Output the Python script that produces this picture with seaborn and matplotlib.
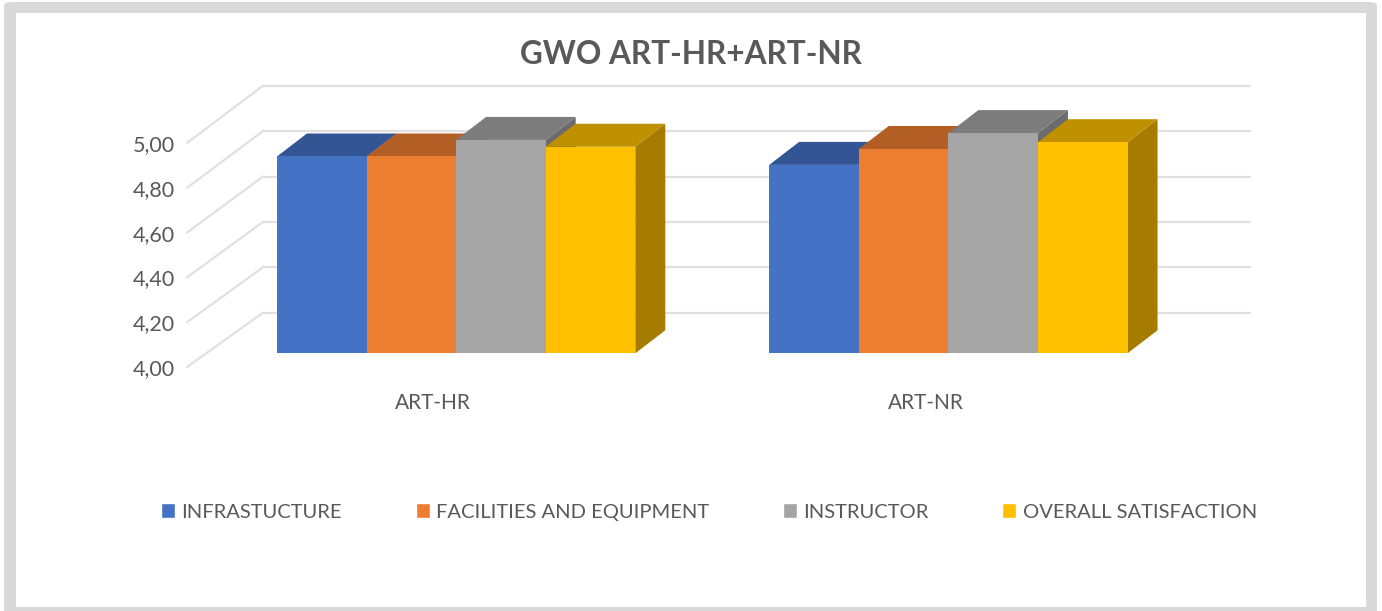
import matplotlib
matplotlib.use("Agg")
import matplotlib.pyplot as plt
from matplotlib.patches import FancyBboxPatch, Rectangle, Polygon, ConnectionPatch
import pandas as pd
import seaborn as sns

# values
groups = ["ART-HR", "ART-NR"]
series = ["INFRASTUCTURE", "FACILITIES AND EQUIPMENT", "INSTRUCTOR", "OVERALL SATISFACTION"]
infrastucture = [4.867, 4.83]
facilities = [4.867, 4.90]
instructor = [4.94, 4.97]
overall = [4.91, 4.93]
y_ticks = [4.0, 4.2, 4.4, 4.6, 4.8, 5.0]

front_colors = ["#4472C4", "#ED7D31", "#A5A5A5", "#FFC000"]
top_colors = ["#335593", "#B25E25", "#7C7C7C", "#BF9000"]
side_colors = ["#2C4A80", "#9A5120", "#6B6B6B", "#A67C00"]
text_color = "#595959"
grid_color = "#E0E0E0"

W, H = 1382, 611
sns.set_theme(style="white")
plt.rcParams["font.family"] = ["Lato", "DejaVu Sans"]


def px_axes(left, right, top, bottom):
    return fig.add_axes([left / W, 1 - bottom / H, (right - left) / W, (bottom - top) / H])


rows = []
for name, vals in zip(series, [infrastucture, facilities, instructor, overall]):
    for g, v in zip(groups, vals):
        rows.append({"group": g, "series": name, "value": v})
df = pd.DataFrame(rows)

fig = plt.figure(figsize=(W / 100, H / 100), dpi=100, facecolor="white")

# grey rounded frame of the screenshot
fig.add_artist(FancyBboxPatch((4 / W, 1 - 640 / H), 1373 / W, 638 / H, boxstyle="round,pad=0,rounding_size=0.006",
                              transform=fig.transFigure, fc="#D9D9D9", ec="none", zorder=-3))
fig.add_artist(Rectangle((15.5 / W, 1 - 607 / H), 1350 / W, 594 / H, transform=fig.transFigure,
                         fc="white", ec="none", zorder=-2))

# back wall carries the gridlines
ax_wall = px_axes(263, 1250, 85.7, 312.7)
ax_wall.set_ylim(4, 5)
ax_wall.set_xlim(0, 1)
ax_wall.set_yticks(y_ticks)
ax_wall.set_xticks([])
ax_wall.tick_params(left=False, labelleft=False)
ax_wall.grid(axis="y", color=grid_color, lw=1.6, clip_on=False)
ax_wall.patch.set_visible(False)
sns.despine(ax=ax_wall, left=True, bottom=True)
for gl in ax_wall.get_ygridlines():
    gl.set_clip_on(False)

# front plane carries the tick labels
ax_front = px_axes(187, 1171.5, 143, 367)
ax_front.set_xlim(-0.5, 1.5)
ax_front.set_ylim(4, 5)
ax_front.set_yticks(y_ticks)
ax_front.set_yticklabels([f"{v:.2f}".replace(".", ",") for v in y_ticks], fontsize=15.5, color=text_color)
ax_front.set_xticks(range(len(groups)))
ax_front.set_xticklabels(groups, fontsize=15, color=text_color)
ax_front.tick_params(axis="y", length=0, pad=9)
ax_front.tick_params(axis="x", length=0, pad=18.5)
ax_front.patch.set_visible(False)
sns.despine(ax=ax_front, left=True, bottom=True)

# floor lines from the front plane to the back wall
for v in y_ticks:
    fig.add_artist(ConnectionPatch((-0.5, v), (0, v), coordsA=ax_front.transData, coordsB=ax_wall.transData,
                                   color=grid_color, lw=1.6, zorder=0.5))

# bars stand between front plane and wall
ax = px_axes(210, 1194.5, 126.3, 353.3)
ax.set_zorder(2)
sns.barplot(data=df, x="group", y="value", hue="series", hue_order=series, order=groups,
            palette=front_colors, saturation=1, width=0.728, gap=0, ax=ax)
ax.set_xlim(-0.5, 1.5)
ax.set_ylim(4, 5)
ax.set_xlabel("")
ax.set_ylabel("")
ax.set_xticks([])
ax.set_yticks([])
ax.patch.set_visible(False)
sns.despine(ax=ax, left=True, bottom=True)

depth_x = 30 / 492.5
depth_y = 23 / 227
y_floor = ax.get_ylim()[0]
for i, cont in enumerate(ax.containers):
    for bar in cont:
        x0 = bar.get_x()
        x1 = x0 + bar.get_width()
        y1 = bar.get_y() + bar.get_height()
        bar.set_zorder(10)
        bar.set_edgecolor("none")
        ax.add_patch(Polygon([(x1, y_floor), (x1 + depth_x, y_floor + depth_y), (x1 + depth_x, y1 + depth_y), (x1, y1)],
                             fc=side_colors[i], ec="none", zorder=2 + i, clip_on=False))
        ax.add_patch(Polygon([(x0, y1), (x0 + depth_x, y1 + depth_y), (x1 + depth_x, y1 + depth_y), (x1, y1)],
                             fc=top_colors[i], ec="none", zorder=2 + i, clip_on=False))

sns.move_legend(ax, "center", bbox_to_anchor=(709 / W, 1 - 512 / H), bbox_transform=fig.transFigure,
                ncol=4, title=None, frameon=False, fontsize=14.5, labelcolor=text_color,
                handlelength=0.7, handleheight=0.7, handletextpad=0.3, columnspacing=3.67,
                borderpad=0, borderaxespad=0)

fig.text(690.5 / W, 1 - 54.5 / H, "GWO ART-HR+ART-NR", ha="center", va="center", fontsize=22.7,
         fontweight="bold", color=text_color)

fig.savefig("out.png", dpi=100)
